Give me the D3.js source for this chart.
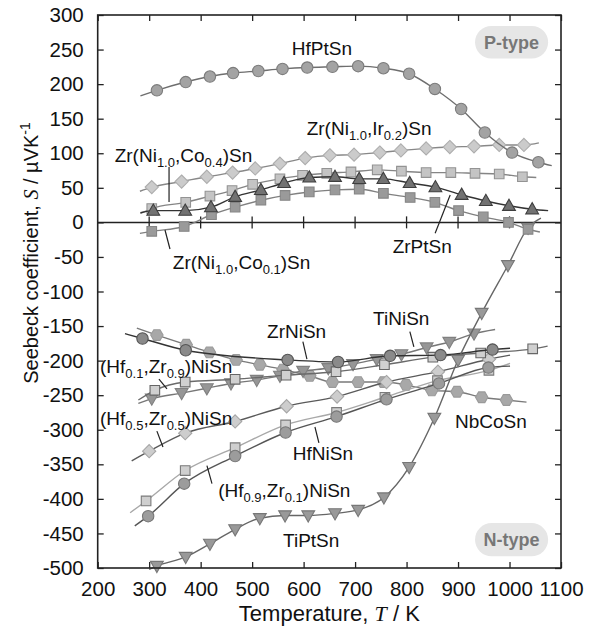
<!DOCTYPE html>
<html><head><meta charset="utf-8">
<script src="https://cdn.jsdelivr.net/npm/d3@7"></script>
<style>body{margin:0;background:#fff}svg{display:block}</style>
</head><body><svg id="c" width="591" height="626"></svg>
<script>
// ---------- data ----------
const xTickValues = [200,300,400,500,600,700,800,900,1000,1100];
const yTickValues = [-500,-450,-400,-350,-300,-250,-200,-150,-100,-50,0,50,100,150,200,250,300];

const hfptsnT = [315,371,418,463,512,559,607,656,706,755,805,855,906,952,1005,1056];
const hfptsnS = [191,203,211,216,219,222,224,225,226,223,215,193,164,130,101,87];
const hfptsnEnds = [[283,183],[1082,82]];

const zrIrT = [305,363,412,462,506,554,603,651,698,748,789,838,884,931,980,1028];
const zrIrS = [51,59,66,72,78,85,93,97,98,101,104,107,109,110,112,112];
const zrIrEnds = [[282,45],[1057,115]];

const zrCo4T = [305,371,418,461,501,554,598,645,692,743,790,838,886,933,980,1025];
const zrCo4S = [20,29,38,46,55,63,68,71,73,76,74,72,72,71,70,66];
const zrCo4Ends = [[283,13],[1052,65]];

const zrptsnT = [308,370,420,467,517,562,611,661,708,755,806,856,907,954,999,1044];
const zrptsnS = [17,17,22,37,47,57,65,66,63,63,57,51,40,31,24,19];
const zrptsnEnds = [[283,14],[1075,17]];

const zrCo1T = [305,368,421,467,517,564,611,661,708,755,807,855,901,949,998,1036];
const zrCo1S = [-13,-6,11,22,32,39,44,47,48,42,36,29,17,8,0,-10];
const zrCo1Ends = [[282,-16],[1059,-14]];

const tiptsnT = [315,371,418,467,515,564,609,661,706,756,805,854,900,946,997,1036];
const tiptsnS = [-497,-484,-465,-444,-428,-424,-424,-421,-416,-398,-354,-283,-199,-131,-62,-8];
const tiptsnEnds = [[300,-502],[1061,6]];

const tinisnT = [305,363,412,459,509,554,599,648,696,742,790,839,883,931];
const tinisnS = [-255,-247,-240,-233,-228,-222,-215,-211,-205,-198,-191,-181,-173,-161];
const tinisnEnds = [[279,-262],[972,-155]];

const hf1T = [311,370,467,566,663,757,851,944,1045];
const hf1S = [-243,-231,-227,-221,-216,-206,-195,-189,-183];
const hf1Ends = [[279,-257],[1074,-179]];

const zrnisnT = [287,371,569,667,768,866,967];
const zrnisnS = [-168,-185,-199,-202,-193,-192,-184];
const zrnisnEnds = [[253,-161],[1001,-182]];

const nbcosnT = [315,372,417,469,515,560,612,656,706,755,799,849,898,946,994];
const nbcosnS = [-163,-177,-188,-199,-206,-213,-222,-231,-231,-231,-235,-243,-245,-253,-257];
const nbcosnEnds = [[276,-153],[1033,-260]];

const hf5T = [300,370,467,567,665,761,861,960];
const hf5S = [-331,-305,-288,-266,-252,-231,-216,-198];
const hf5Ends = [[266,-345],[1001,-192]];

const hf9T = [294,370,467,565,664,758,860,960];
const hf9S = [-403,-359,-326,-293,-275,-253,-229,-214];
const hf9Ends = [[263,-420],[1001,-204]];

const hfnisnT = [298,368,467,565,664,761,863,959];
const hfnisnS = [-425,-378,-338,-304,-281,-256,-233,-210];
const hfnisnEnds = [[272,-439],[1001,-208]];

// label texts: segments [text, sub?]
const labelTexts = {
  hfptsn: [["HfPtSn",0]],
  zrIr: [["Zr(Ni",0],["1.0",1],[",Ir",0],["0.2",1],[")Sn",0]],
  zrCo4: [["Zr(Ni",0],["1.0",1],[",Co",0],["0.4",1],[")Sn",0]],
  zrptsn: [["ZrPtSn",0]],
  zrCo1: [["Zr(Ni",0],["1.0",1],[",Co",0],["0.1",1],[")Sn",0]],
  zrnisn: [["ZrNiSn",0]],
  tinisn: [["TiNiSn",0]],
  hf1: [["(Hf",0],["0.1",1],[",Zr",0],["0.9",1],[")NiSn",0]],
  hf5: [["(Hf",0],["0.5",1],[",Zr",0],["0.5",1],[")NiSn",0]],
  hfnisn: [["HfNiSn",0]],
  hf9: [["(Hf",0],["0.9",1],[",Zr",0],["0.1",1],[")NiSn",0]],
  tiptsn: [["TiPtSn",0]],
  nbcosn: [["NbCoSn",0]]
};
// label anchor (T, S) in data units: left x, baseline
const labelAt = {
  hfptsn:[577,242], zrIr:[606,126], zrCo4:[233,87], zrptsn:[773,-45], zrCo1:[346,-68],
  zrnisn:[529,-167], tinisn:[735,-149], hf1:[204.5,-218], hf5:[204.5,-293],
  hfnisn:[579,-344], hf9:[434,-397], tiptsn:[560,-470], nbcosn:[894,-297]
};
// leader lines [T1,S1,T2,S2]
const leaders = [
  [338.6,80,338.6,29.5],[855.5,-15.6,884.7,39.7],[340.4,-38.5,330.7,-11],
  [598.6,-172.6,606.4,-197.7],[806.4,-158,814.2,-180],[319,-226.6,334.6,-241],
  [315,-302,326.8,-325],[622,-296,629.7,-319],[412.2,-352,422,-378]
];
const pills = [["P-type",933,1075,284,237,251],["N-type",933,1075,-435,-483,-468]];

// ---------- series table ----------
const series = [
  {k:"nbcosn",T:nbcosnT,S:nbcosnS,E:nbcosnEnds,shape:"hex",fill:"#a8a8a8",stroke:"#9a9a9a",line:"#7a7a7a"},
  {k:"hf5",T:hf5T,S:hf5S,E:hf5Ends,shape:"diamond",fill:"#cdcdcd",stroke:"#a5a5a5",line:"#5a5a5a"},
  {k:"hf9",T:hf9T,S:hf9S,E:hf9Ends,shape:"square",fill:"#cfcfcf",stroke:"#7a7a7a",line:"#a8a8a8"},
  {k:"hfnisn",T:hfnisnT,S:hfnisnS,E:hfnisnEnds,shape:"circle",fill:"#9c9c9c",stroke:"#777",line:"#555"},
  {k:"tinisn",T:tinisnT,S:tinisnS,E:tinisnEnds,shape:"triDown",fill:"#969696",stroke:"#808080",line:"#777"},
  {k:"hf1",T:hf1T,S:hf1S,E:hf1Ends,shape:"square",fill:"#d0d0d0",stroke:"#666",line:"#6a6a6a"},
  {k:"zrnisn",T:zrnisnT,S:zrnisnS,E:zrnisnEnds,shape:"circle",fill:"#8a8a8a",stroke:"#555",line:"#333"},
  {k:"tiptsn",T:tiptsnT,S:tiptsnS,E:tiptsnEnds,shape:"triDown",fill:"#999",stroke:"#777",line:"#666"},
  {k:"zrCo1",T:zrCo1T,S:zrCo1S,E:zrCo1Ends,shape:"square",fill:"#9a9a9a",stroke:"#858585",line:"#808080"},
  {k:"zrCo4",T:zrCo4T,S:zrCo4S,E:zrCo4Ends,shape:"square",fill:"#c4c4c4",stroke:"#939393",line:"#858585"},
  {k:"zrIr",T:zrIrT,S:zrIrS,E:zrIrEnds,shape:"diamond",fill:"#cbcbcb",stroke:"#adadad",line:"#888"},
  {k:"zrptsn",T:zrptsnT,S:zrptsnS,E:zrptsnEnds,shape:"triUp",fill:"#727272",stroke:"#3e3e3e",line:"#333"},
  {k:"hfptsn",T:hfptsnT,S:hfptsnS,E:hfptsnEnds,shape:"circle",fill:"#a3a3a3",stroke:"#7c7c7c",line:"#6e6e6e"}
];

// ---------- layout ----------
const svg = d3.select("#c");
const L = 97.7, R = 561, TOP = 15, BOT = 568;
const x = d3.scaleLinear().domain([200,1100]).range([L,R]);
const y = d3.scaleLinear().domain([-500,300]).range([BOT,TOP]);
const FONT = "'Liberation Sans', Arial, Helvetica, sans-serif";

const marker = (shape) => {
  switch(shape){
    case "circle": return d3.symbol(d3.symbolCircle, Math.PI*5.7*5.7)();
    case "square": return "M-4.8,-4.8H4.8V4.8H-4.8Z";
    case "triUp": return "M0,-6.6L6.4,4.6L-6.4,4.6Z";
    case "triDown": return "M0,6.6L6.4,-4.6L-6.4,-4.6Z";
    case "diamond": return "M0,-6.6L6.6,0L0,6.6L-6.6,0Z";
    case "hex": { const r=6.2; return "M"+d3.range(6).map(i=>{const a=Math.PI/3*i; return [r*Math.cos(a),r*Math.sin(a)].join(",");}).join("L")+"Z"; }
  }
};

// zero line
svg.append("line").attr("x1",L).attr("x2",R).attr("y1",y(0)).attr("y2",y(0))
  .attr("stroke","#222").attr("stroke-width",1.5);
svg.append("g").selectAll("line").data(xTickValues.slice(1,-1)).join("line")
  .attr("x1",d=>x(d)).attr("x2",d=>x(d)).attr("y1",y(0)-6).attr("y2",y(0)+6)
  .attr("stroke","#222").attr("stroke-width",1.3);

// series
const lineGen = d3.line().x(d=>x(d[0])).y(d=>y(d[1])).curve(d3.curveMonotoneX);
series.forEach(s=>{
  const pts = s.T.map((t,i)=>[t,s.S[i]]);
  const all = [s.E[0], ...pts, s.E[1]];
  const g = svg.append("g");
  g.append("path").attr("d",lineGen(all)).attr("fill","none").attr("stroke",s.line).attr("stroke-width",1.4);
  g.selectAll("path.m").data(pts).join("path").attr("class","m")
    .attr("d",marker(s.shape)).attr("transform",d=>`translate(${x(d[0])},${y(d[1])})`)
    .attr("fill",s.fill).attr("stroke",s.stroke).attr("stroke-width",1.1);
});

// axes
const fmt = d=>String(d);
const gL = svg.append("g").attr("transform",`translate(${L},0)`)
  .call(d3.axisLeft(y).tickValues(yTickValues).tickSizeInner(-6).tickSizeOuter(0).tickPadding(14).tickFormat(fmt));
const gR = svg.append("g").attr("transform",`translate(${R},0)`)
  .call(d3.axisRight(y).tickValues(yTickValues).tickSizeInner(-6).tickSizeOuter(0).tickFormat(""));
const gB = svg.append("g").attr("transform",`translate(0,${BOT})`)
  .call(d3.axisBottom(x).tickValues(xTickValues).tickSizeInner(-6).tickSizeOuter(0).tickPadding(13).tickFormat(fmt));
const gT = svg.append("g").attr("transform",`translate(0,${TOP})`)
  .call(d3.axisTop(x).tickValues(xTickValues).tickSizeInner(-6).tickSizeOuter(0).tickFormat(""));
[gL,gR,gB,gT].forEach(g=>{
  g.select(".domain").remove();
  g.selectAll(".tick line").attr("stroke","#222").attr("stroke-width",1.3);
  g.selectAll("text").attr("font-family",FONT).attr("font-size",20.5).attr("fill","#111");
});
svg.append("rect").attr("x",L).attr("y",TOP).attr("width",R-L).attr("height",BOT-TOP)
  .attr("fill","none").attr("stroke","#222").attr("stroke-width",1.6);

// axis titles
const xt = svg.append("text").attr("x",(L+R)/2).attr("y",621).attr("text-anchor","middle")
  .attr("font-family",FONT).attr("font-size",22).attr("fill","#111");
xt.append("tspan").text("Temperature, ");
xt.append("tspan").attr("font-family","'Liberation Serif','Times New Roman',serif").attr("font-style","italic").text("T");
xt.append("tspan").text(" / K");

const yt = svg.append("text").attr("transform",`translate(38,253) rotate(-90)`).attr("text-anchor","middle")
  .attr("font-family",FONT).attr("font-size",20).attr("fill","#111");
yt.append("tspan").text("Seebeck coefficient, ");
yt.append("tspan").attr("font-family","'Liberation Serif','Times New Roman',serif").attr("font-style","italic").text("S");
yt.append("tspan").text(" / \u00B5VK");
yt.append("tspan").attr("font-size",14).attr("dy",-8).text("-1");

// leaders
svg.append("g").selectAll("line").data(leaders).join("line")
  .attr("x1",d=>x(d[0])).attr("y1",d=>y(d[1])).attr("x2",d=>x(d[2])).attr("y2",d=>y(d[3]))
  .attr("stroke","#222").attr("stroke-width",1.2);

// labels
Object.keys(labelTexts).forEach(k=>{
  const [t,s] = labelAt[k];
  const txt = svg.append("text").attr("x",x(t)).attr("y",y(s))
    .attr("font-family",FONT).attr("font-size",19).attr("fill","#111");
  let sub=false;
  labelTexts[k].forEach(([str,isSub])=>{
    const sp = txt.append("tspan").text(str);
    if(isSub && !sub){ sp.attr("font-size",13).attr("dy",5); sub=true; }
    else if(!isSub && sub){ sp.attr("dy",-5); sub=false; }
    else if(isSub) sp.attr("font-size",13);
  });
});

// pills
pills.forEach(([txt,t1,t2,s1,s2,sb])=>{
  const h = y(s2)-y(s1);
  svg.append("rect").attr("x",x(t1)).attr("y",y(s1)).attr("width",x(t2)-x(t1)).attr("height",h)
    .attr("rx",h/2).attr("fill","#e6e6e6");
  svg.append("text").attr("x",(x(t1)+x(t2))/2).attr("y",y(sb)).attr("text-anchor","middle")
    .attr("font-family",FONT).attr("font-weight","bold").attr("font-size",18).attr("fill","#777").text(txt);
});
</script></body></html>
